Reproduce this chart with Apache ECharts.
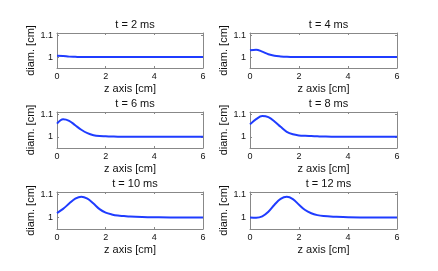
<!DOCTYPE html>
<html><head><meta charset="utf-8">
<script src="https://cdn.jsdelivr.net/npm/echarts@6/dist/echarts.min.js"></script>
<style>html,body{margin:0;padding:0;background:#fff}#c{width:438px;height:271px}</style>
</head><body><div id="c"></div>
<script>
const titles = ['t = 2 ms','t = 4 ms','t = 6 ms','t = 8 ms','t = 10 ms','t = 12 ms'];
const zPos = [0, 0.25, 0.5, 0.75, 1, 1.25, 1.5, 1.75, 2, 2.25, 2.5, 2.75, 3, 3.5, 4, 5, 6];
const diam2  = [1.006,1.005,1.002,1.001,1.000,1,1,1,1,1,1,1,1,1,1,1,1];
const diam4  = [1.031,1.034,1.025,1.013,1.006,1.003,1.001,1,1,1,1,1,1,1,1,1,1];
const diam6  = [1.058,1.078,1.071,1.051,1.031,1.016,1.007,1.003,1.002,1.001,1.0,1,1,1,1,1,1];
const diam8  = [1.055,1.078,1.092,1.087,1.068,1.044,1.022,1.011,1.006,1.004,1.003,1.002,1.001,1,1,1,1];
const diam10 = [1.019,1.037,1.060,1.081,1.090,1.081,1.060,1.036,1.021,1.013,1.008,1.006,1.004,1.002,1.001,1,1];
const diam12 = [1.000,0.999,1.005,1.025,1.055,1.080,1.089,1.079,1.055,1.032,1.018,1.010,1.006,1.003,1.001,1,1];
const allDiam = [diam2, diam4, diam6, diam8, diam10, diam12];
const xTicks = [0, 2, 4, 6];
const yTicks = [1, 1.1];
const xLabel = 'z axis [cm]';
const yLabel = 'diam. [cm]';

const FONT = '"Liberation Sans", Arial, sans-serif';
const colLeft = [57, 250];
const colWidth = [146, 147];
const rowTop = [33, 112, 192];
const rowHeight = [35, 36, 37];

const grids = [], xAxes = [], yAxes = [], series = [], title = [];
for (let i = 0; i < 6; i++) {
  const r = Math.floor(i / 2), c = i % 2;
  grids.push({left: colLeft[c], top: rowTop[r], width: colWidth[c], height: rowHeight[r], containLabel: false});
  title.push({text: titles[i], left: colLeft[c] + colWidth[c] / 2, top: rowTop[r] - 19, textAlign: 'center',
    textStyle: {fontFamily: FONT, fontSize: 11, fontWeight: 'normal', color: '#111'}});
  const lineStyle = {color: '#888', width: 1};
  xAxes.push({gridIndex: i, type: 'value', min: 0, max: 6, interval: 2, position: 'bottom',
    name: xLabel, nameLocation: 'middle', nameGap: 15,
    nameTextStyle: {fontFamily: FONT, fontSize: 11, color: '#111'},
    axisLine: {show: true, onZero: false, lineStyle},
    axisTick: {show: true, inside: true, length: 2, lineStyle},
    axisLabel: {fontFamily: FONT, fontSize: 9, color: '#111', margin: 4, formatter: v => xTicks.includes(v) ? String(v) : ''},
    splitLine: {show: false}});
  xAxes.push({gridIndex: i, type: 'value', min: 0, max: 6, interval: 2, position: 'top',
    axisLine: {show: true, onZero: false, lineStyle},
    axisTick: {show: true, inside: true, length: 2, lineStyle},
    axisLabel: {show: false}, splitLine: {show: false}});
  yAxes.push({gridIndex: i, type: 'value', min: 0.95, max: 1.11, position: 'left',
    name: yLabel, nameLocation: 'middle', nameGap: 20, nameRotate: 90,
    nameTextStyle: {fontFamily: FONT, fontSize: 11, color: '#111'},
    axisLine: {show: true, onZero: false, lineStyle},
    axisTick: {show: true, inside: true, length: 2, lineStyle, customValues: yTicks},
    axisLabel: {fontFamily: FONT, fontSize: 9, color: '#111', margin: 4, customValues: yTicks,
      formatter: v => (Math.abs(v - 1) < 1e-9 ? '1' : '1.1')},
    splitLine: {show: false}});
  yAxes.push({gridIndex: i, type: 'value', min: 0.95, max: 1.11, position: 'right',
    axisLine: {show: true, onZero: false, lineStyle},
    axisTick: {show: true, inside: true, length: 2, lineStyle, customValues: yTicks},
    axisLabel: {show: false}, splitLine: {show: false}});
  series.push({type: 'line', xAxisIndex: 2 * i, yAxisIndex: 2 * i, smooth: 0.35, symbol: 'none',
    lineStyle: {color: '#1f3cff', width: 2}, data: zPos.map((z, k) => [z, allDiam[i][k]]), clip: true});
}
const chart = echarts.init(document.getElementById('c'), null, {renderer: 'canvas'});
chart.setOption({animation: false, backgroundColor: '#fff', title, grid: grids, xAxis: xAxes, yAxis: yAxes, series});
</script></body></html>
